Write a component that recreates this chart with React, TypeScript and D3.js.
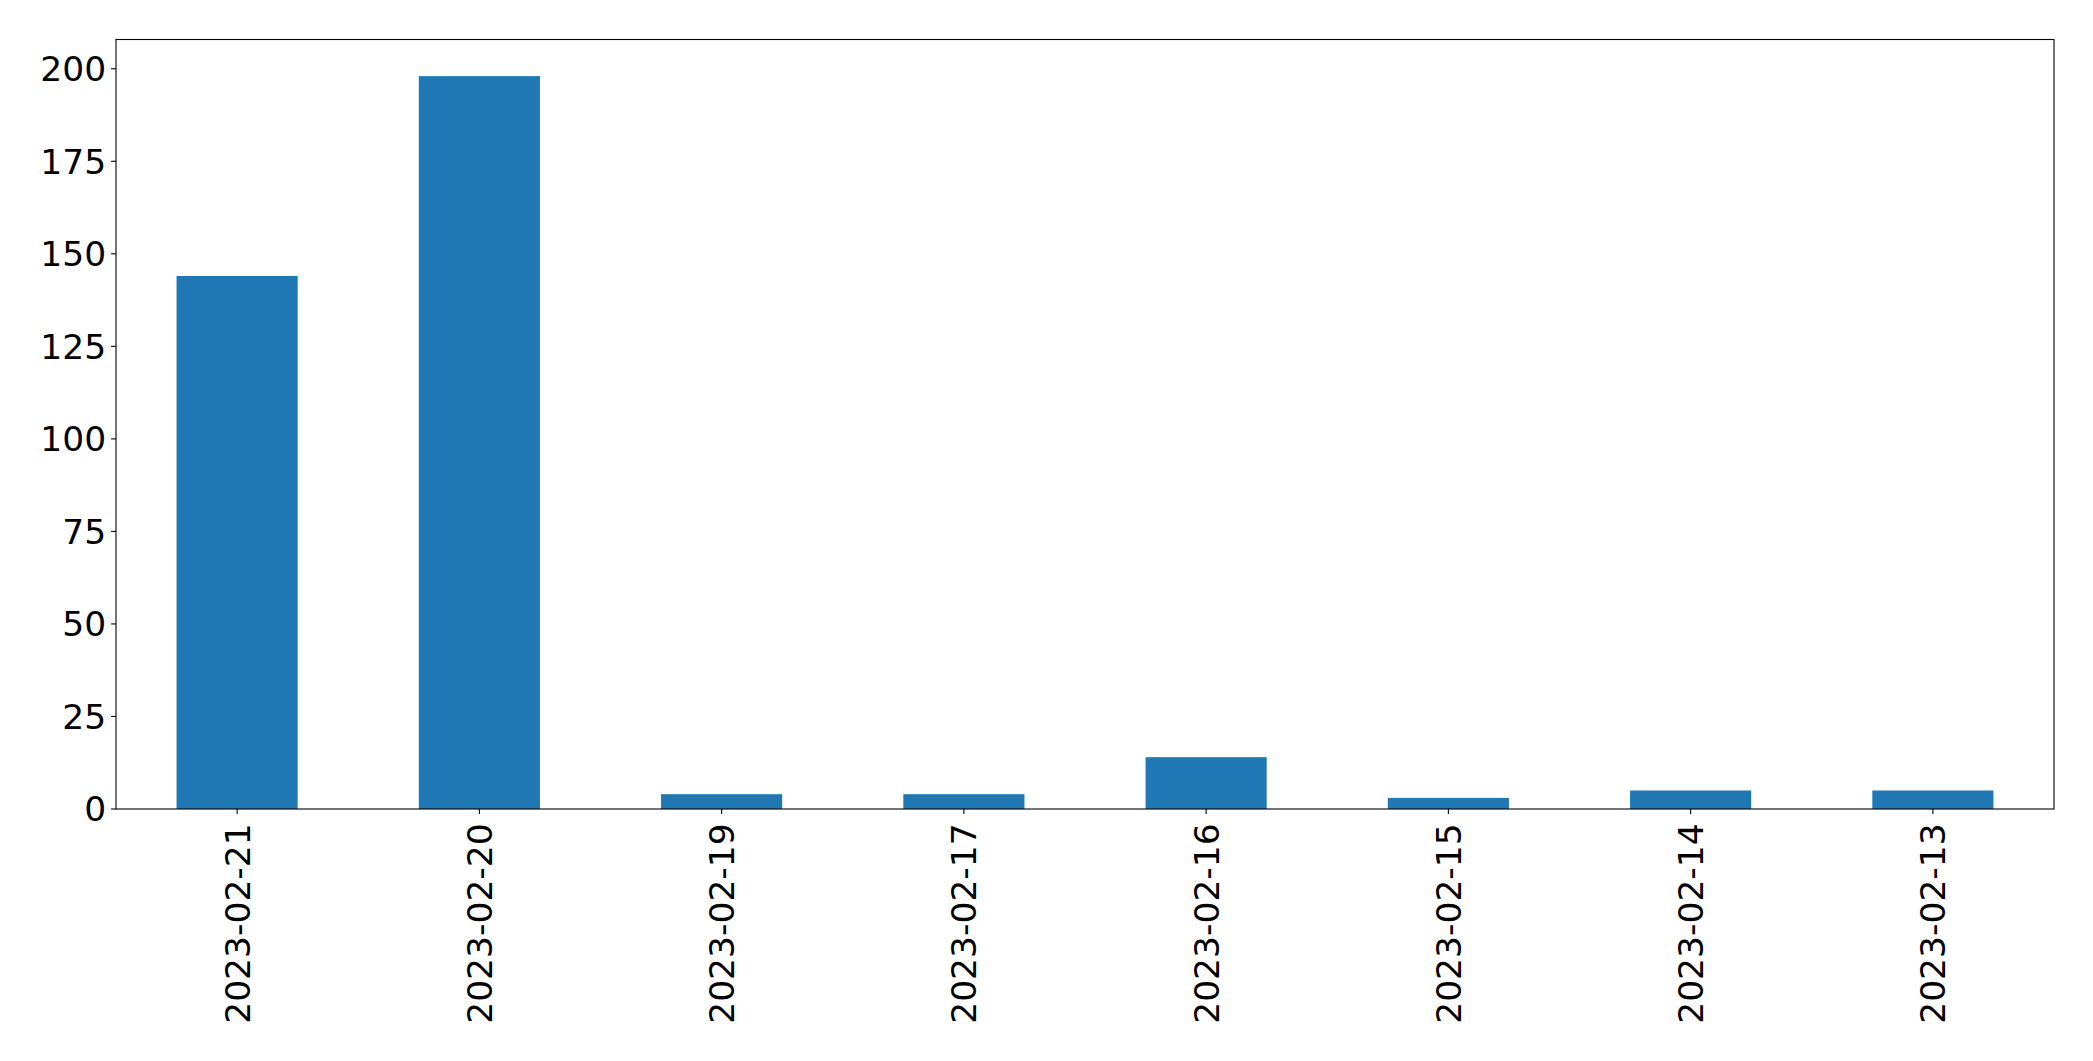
import React from "react";
import * as d3 from "d3";

const categories = ["2023-02-21", "2023-02-20", "2023-02-19", "2023-02-17", "2023-02-16", "2023-02-15", "2023-02-14", "2023-02-13"];
const values = [144, 198, 4, 4, 14, 3, 5, 5];
const yTicks = [0, 25, 50, 75, 100, 125, 150, 175, 200];

const W = 2093;
const H = 1061;
const left = 116;
const right = 2054;
const top = 39.5;
const bottom = 809;

export default function App() {
  const x = d3.scaleLinear().domain([-0.5, categories.length - 0.5]).range([left, right]);
  const y = d3.scaleLinear().domain([0, d3.max(values)! * 1.05]).range([bottom, top]);
  const tick = 4.9;
  const pad = 4.9;
  const fs = 34.5;
  const font = "DejaVu Sans";
  return (
    <svg width={W} height={H} style={{ position: "absolute", left: 0, top: 0, background: "#fff" }} fontFamily={font}>
      <rect x={0} y={0} width={W} height={H} fill="#fff" />
      {values.map((v, i) => (
        <rect key={i} x={x(i - 0.25)} y={y(v)} width={x(i + 0.25) - x(i - 0.25)} height={y(0) - y(v)} fill="#1f77b4" />
      ))}
      <rect x={left} y={top} width={right - left} height={bottom - top} fill="none" stroke="#000" strokeWidth={1.1} />
      {yTicks.map((t) => (
        <g key={t}>
          <line x1={left - tick} x2={left} y1={y(t)} y2={y(t)} stroke="#000" strokeWidth={1.1} />
          <text x={left - tick - pad} y={y(t)} dy="0.36em" textAnchor="end" fontSize={fs} fill="#000">{t}</text>
        </g>
      ))}
      {categories.map((c, i) => (
        <g key={c}>
          <line x1={x(i)} x2={x(i)} y1={bottom} y2={bottom + tick} stroke="#000" strokeWidth={1.1} />
          <text transform={`translate(${x(i)},${bottom + tick + pad + 4.5}) rotate(-90)`} dy="0.36em" textAnchor="end" fontSize={fs} fill="#000">{c}</text>
        </g>
      ))}
    </svg>
  );
}
